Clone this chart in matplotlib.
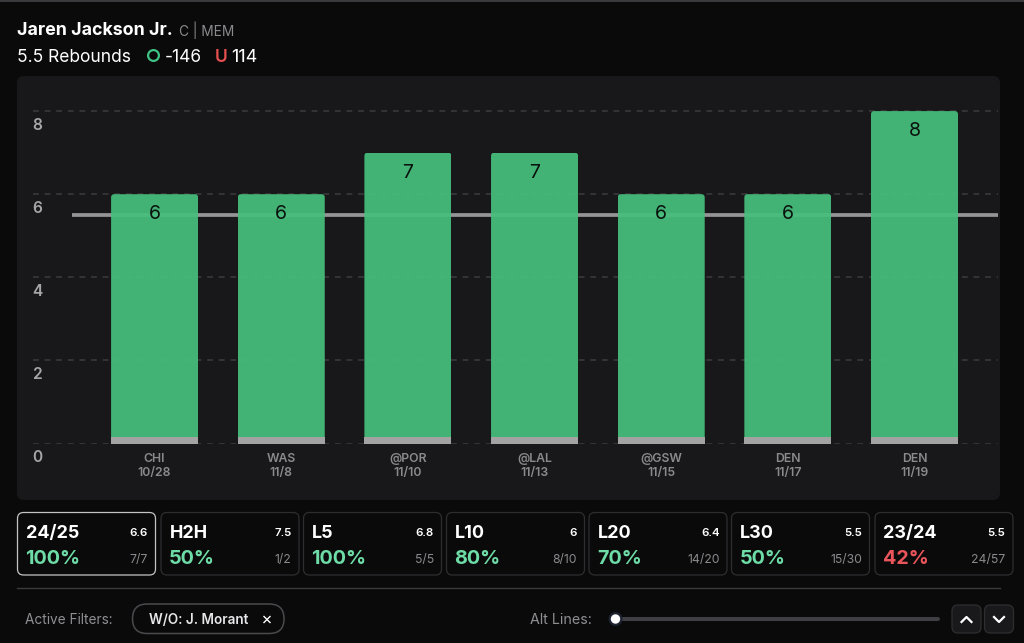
import matplotlib
matplotlib.use('Agg')
from matplotlib import pyplot as plt
from matplotlib.patches import FancyBboxPatch, Circle, Rectangle

plt.rcParams['font.family'] = ['Inter', 'DejaVu Sans']

# chart data
opponents = ['CHI', 'WAS', '@POR', '@LAL', '@GSW', 'DEN', 'DEN']
dates = ['10/28', '11/8', '11/10', '11/13', '11/15', '11/17', '11/19']
rebounds = [6, 6, 7, 7, 6, 6, 8]
prop_line = 5.5
y_ticks = [0, 2, 4, 6, 8]

# summary cards
card_names = ['24/25', 'H2H', 'L5', 'L10', 'L20', 'L30', '23/24']
card_avgs = ['6.6', '7.5', '6.8', '6', '6.4', '5.5', '5.5']
card_pcts = [100, 50, 100, 80, 70, 50, 42]
card_counts = ['7/7', '1/2', '5/5', '8/10', '14/20', '15/30', '24/57']
card_lefts = [17.5, 161, 303.5, 446.5, 589, 731.5, 875]

BG = '#0a0a0a'
PANEL = '#18181a'
GREEN = '#46c07d'
W, H = 1024, 643

# pixels per data unit in the bar chart
X_STEP = 126.65
Y_STEP = 41.55
X0 = 154.6

fig = plt.figure(figsize=(W / 100, H / 100), dpi=100, facecolor=BG)

# whole figure axes in pixel coords for the page furniture
ui = fig.add_axes([0, 0, 1, 1])
ui.set_xlim(0, W)
ui.set_ylim(H, 0)
ui.axis('off')


def box(x0, y0, x1, y1, r, face, edge='none', lw=1.0, z=1):
    p = FancyBboxPatch((x0 + r, y0 + r), x1 - x0 - 2 * r, y1 - y0 - 2 * r,
                       boxstyle='round,pad=%f,rounding_size=%f' % (r, r),
                       fc=face, ec=edge, lw=lw, zorder=z)
    ui.add_patch(p)


def px(size):
    return size * 0.72


ui.add_patch(Rectangle((0, 0), W, 2, fc='#3a3a3c', ec='none'))

# header
ui.text(17, 30.5, 'Jaren Jackson Jr.', color='white', fontsize=px(17.8), fontweight='bold', va='center')
ui.text(179, 30.5, 'C | MEM', color='#8a8a8e', fontsize=px(13.7), va='center')
ui.text(17, 57.5, '5.5 Rebounds', color='white', fontsize=px(17.4), va='center')
ui.add_patch(Circle((153.5, 55.5), 5.4, fc='none', ec='#3fc384', lw=1.6))
ui.text(164.5, 57.5, '-146', color='white', fontsize=px(17.4), va='center')
ui.text(215, 57.5, 'U', color='#e5504f', fontsize=px(17.4), fontweight='semibold', va='center')
ui.text(231, 57.5, '114', color='white', fontsize=px(18), va='center')

# chart panel
box(17, 76, 1000, 500, 7, PANEL)

# cards
for i, name in enumerate(card_names):
    x0 = card_lefts[i]
    x1 = x0 + 138
    selected = i == 0
    box(x0, 512.5, x1, 575, 6, BG, edge='#c4c4c6' if selected else '#2e2e31', lw=0.9, z=2)
    pct_col = '#6ddca6' if card_pcts[i] >= 50 else '#e9555a'
    ui.text(x0 + 8.5, 533, name, color='white', fontsize=px(18), fontweight='bold', va='center', zorder=3)
    ui.text(x0 + 130.5, 532.5, card_avgs[i], color='white', fontsize=px(11.5), fontweight='semibold', ha='right', va='center', zorder=3)
    ui.text(x0 + 8, 558.5, '%d%%' % card_pcts[i], color=pct_col, fontsize=px(19.8), fontweight='bold', va='center', zorder=3)
    ui.text(x0 + 130.5, 559.5, card_counts[i], color='#8a8a8e', fontsize=px(12.2), ha='right', va='center', zorder=3)

# divider and filter row
ui.plot([17, 1000], [587.5, 587.5], color='#3a3a3c', lw=1)
ui.text(25, 620, 'Active Filters:', color='#8f8f93', fontsize=px(13.6), va='center')
box(132.5, 604, 284, 633.5, 14.7, BG, edge='#4a4a4e', lw=1.1)
ui.text(149, 620, 'W/O: J. Morant', color='#e8e8ea', fontsize=px(13.5), fontweight='semibold', va='center')
ui.plot([264, 270], [616.5, 622.5], color='white', lw=1)
ui.plot([264, 270], [622.5, 616.5], color='white', lw=1)
ui.text(592, 620, 'Alt Lines:', color='#8f8f93', fontsize=px(14.2), ha='right', va='center')
ui.plot([615, 938], [619, 619], color='#3f3f43', lw=2.9, solid_capstyle='round')
ui.add_patch(Circle((615.5, 619), 7, fc='#1c2230', ec='none', zorder=3))
ui.add_patch(Circle((615.5, 619), 4.7, fc='white', ec='none', zorder=4))
box(952, 605, 981, 633, 6, '#19191b', edge='#2e2e31', lw=0.9)
box(984.5, 605, 1013.5, 633, 6, '#19191b', edge='#2e2e31', lw=0.9)
ui.plot([961.5, 966.5, 971.5], [622, 617, 622], color='white', lw=1.6, zorder=3)
ui.plot([994, 999, 1004], [617, 622, 617], color='white', lw=1.6, zorder=3)

# the bar chart itself, on real axes. y=0 is at px 443.5, y=8 at px 111
ax = fig.add_axes([33 / W, 1 - 443.5 / H, (998 - 33) / W, (443.5 - 100) / H])
ax.patch.set_alpha(0)
ax.set_xlim((33 - X0) / X_STEP, (998 - X0) / X_STEP)
ax.set_ylim(0, (443.5 - 100) / Y_STEP)
for s in ax.spines.values():
    s.set_visible(False)

positions = list(range(len(rebounds)))
ax.hlines(y_ticks, ax.get_xlim()[0], ax.get_xlim()[1], color='#3c3c3f', lw=1.1,
          linestyles=(0, (3.8, 3.8)), zorder=1)

# prop line runs behind the see-through bars
line_start = (72 - X0) / X_STEP
ax.plot([line_start, ax.get_xlim()[1]], [prop_line, prop_line], color='#949496', lw=2.7,
        solid_capstyle='butt', zorder=1.5)

bar_w = 87 / X_STEP
bars = ax.bar(positions, rebounds, width=bar_w, color=GREEN, alpha=0.93, zorder=2)
# round the top corners by clipping each bar
for b in bars:
    r = 3 / X_STEP
    clip = FancyBboxPatch((b.get_x() + r, -1), b.get_width() - 2 * r, b.get_height() + 1 - r * X_STEP / Y_STEP,
                          boxstyle='round,pad=%f,rounding_size=%f' % (r, r),
                          mutation_aspect=X_STEP / Y_STEP, transform=ax.transData)
    b.set_clip_path(clip)
ax.bar(positions, [0.16] * len(rebounds), width=bar_w, color='#a3a3a3', zorder=3, clip_on=False)

for x, v in zip(positions, rebounds):
    ax.annotate(str(v), (x, v), xytext=(0, -20 * 0.72), textcoords='offset points',
                ha='center', va='center', color='#0b120e', fontsize=px(19.5), zorder=5)

# y labels sit under their gridlines
ax.set_yticks([])
for v in y_ticks:
    ax.annotate(str(v), (33, v), xycoords=('figure pixels', 'data'), xytext=(4.6 * 0.72, -14 * 0.72),
                textcoords='offset points', ha='center', va='center',
                color='#a6a6a8', fontsize=px(15.5), fontweight='semibold', annotation_clip=False)

ax.set_xticks(positions)
ax.set_xticklabels([o + '\n' + d for o, d in zip(opponents, dates)], color='#8a8a8e',
                   fontsize=px(12.3), fontweight='semibold', linespacing=1.2)
ax.tick_params(axis='x', length=0, pad=7)

fig.savefig('out.png', dpi=100, facecolor=BG)
